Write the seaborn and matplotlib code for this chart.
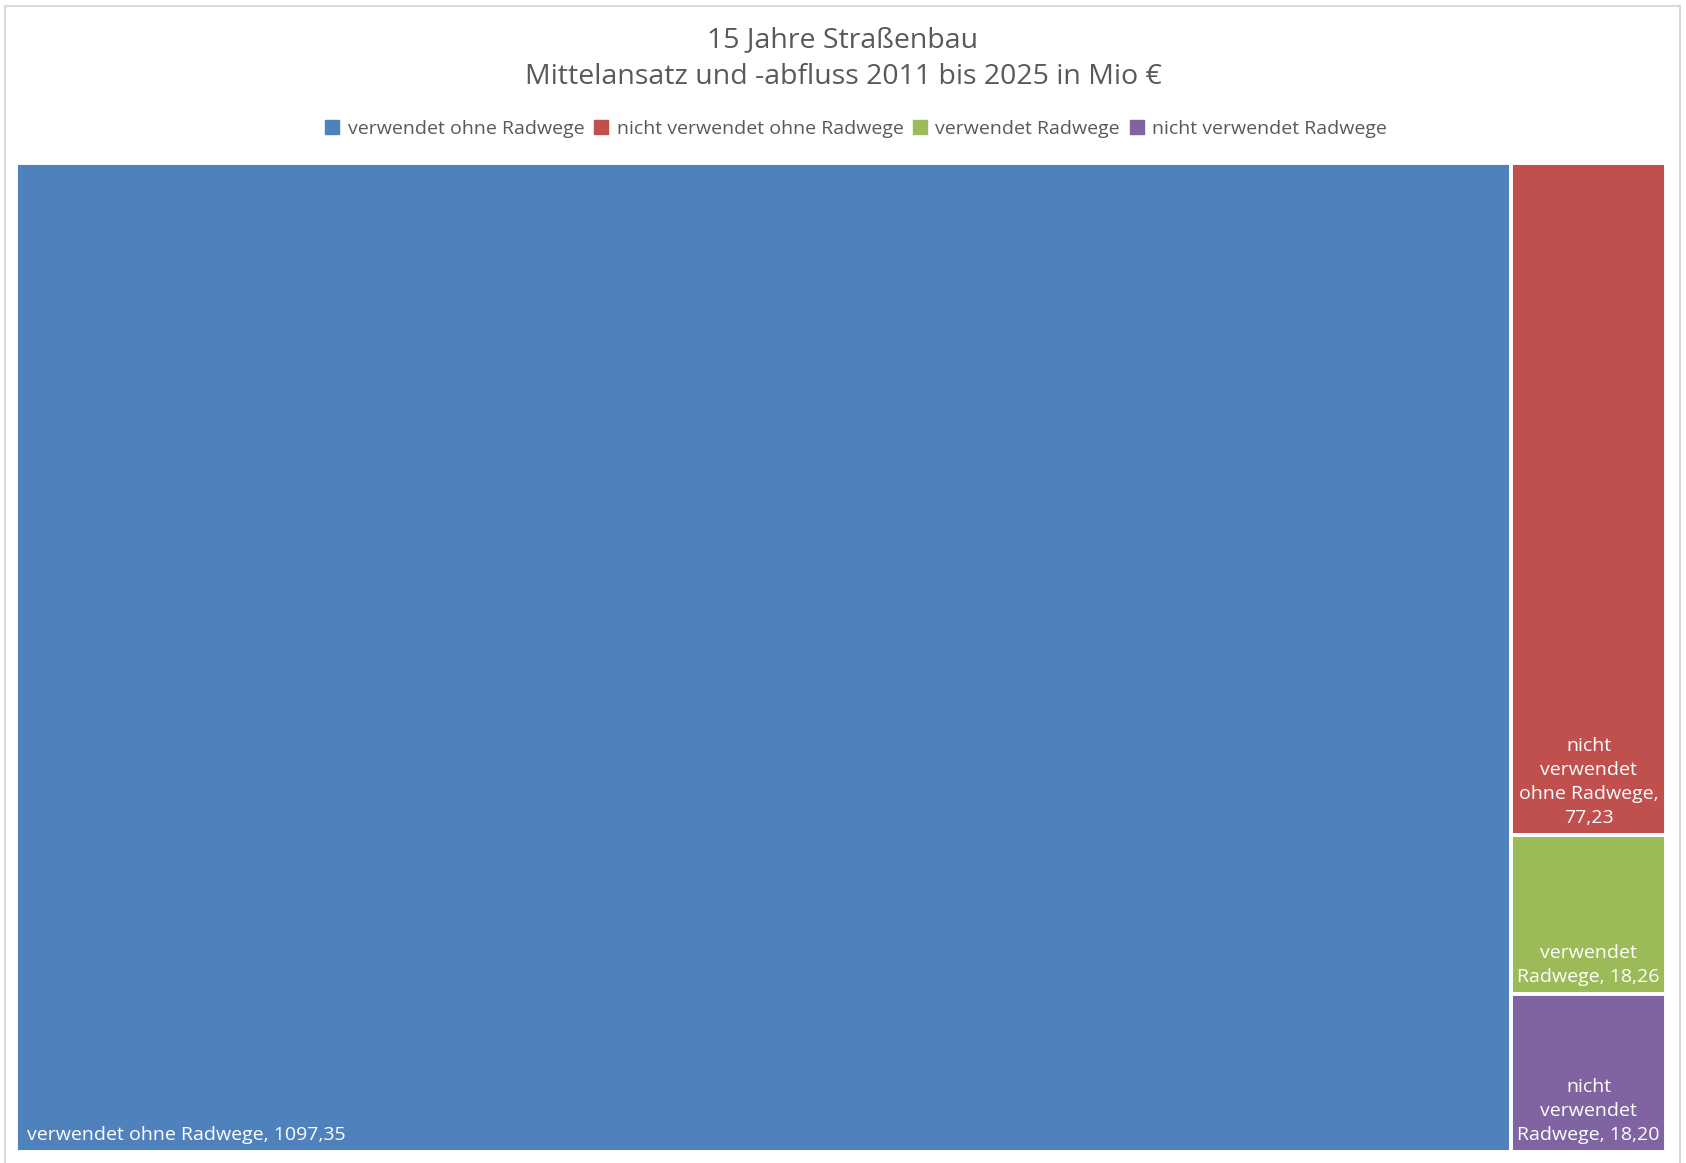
import matplotlib
matplotlib.use("Agg")
import matplotlib.pyplot as plt
from matplotlib.patches import Rectangle
from matplotlib.lines import Line2D
import seaborn as sns

# treemap: Mittelansatz und -abfluss 2011-2025
categories = ["verwendet ohne Radwege", "nicht verwendet ohne Radwege",
              "verwendet Radwege", "nicht verwendet Radwege"]
values = [1097.35, 77.23, 18.26, 18.20]
# label text as excel wrapped it inside the boxes
box_labels = ["verwendet ohne Radwege, 1097,35",
              "nicht\nverwendet\nohne Radwege,\n77,23",
              "verwendet\nRadwege, 18,26",
              "nicht\nverwendet\nRadwege, 18,20"]
colors = ["#4F81BD", "#C0504D", "#9BBB59", "#8064A2"]

sns.set_style("white")
plt.rcParams["font.family"] = ["Open Sans", "DejaVu Sans"]

W, H = 1686, 1163
fig = plt.figure(figsize=(W / 100, H / 100), dpi=100)
fig.patches.append(Rectangle((5 / W, -0.01), 1675 / W, 1 - 6 / H + 0.01,
                             transform=fig.transFigure, fill=False,
                             edgecolor="#D9D9D9", linewidth=1.5))

# axes a bit bigger than the boxes, the white edges eat ~2px per side
ax = fig.add_axes([16 / W, 1 - 1152 / H, 1650 / W, 989 / H])
total = sum(values)
ax.set_xlim(0, total)
ax.set_ylim(0, 1)
ax.axis("off")

# biggest box fills the full height, the rest stack in the remaining column
rects = [(0, 0, values[0], 1)]
rest = sum(values[1:])
top = 1.0
for v in values[1:]:
    h = v / rest
    rects.append((values[0], top - h, total - values[0], h))
    top -= h

for i, (x, y, w, h) in enumerate(rects):
    ax.add_patch(Rectangle((x, y), w, h, facecolor=colors[i],
                           edgecolor="white", linewidth=2.8))
    if i == 0:
        ax.text(x + total * 0.0065, y + 0.008, box_labels[i], color="white",
                fontsize=14, ha="left", va="bottom")
    else:
        ax.text(x + w / 2, y + 0.008, box_labels[i], color="white",
                fontsize=14, ha="center", va="bottom", linespacing=1.42,
                multialignment="center", clip_on=True)

fig.text(0.5, 1 - 40 / H, "15 Jahre Straßenbau", ha="center", va="center",
         fontsize=20.5, color="#595959")
fig.text(0.5, 1 - 77 / H, "Mittelansatz und -abfluss 2011 bis 2025 in Mio €",
         ha="center", va="center", fontsize=20.5, color="#595959")

handles = [Line2D([], [], marker="s", linestyle="", markersize=10,
                  markerfacecolor=c, markeredgecolor=c) for c in colors]
fig.legend(handles, categories, loc="center", bbox_to_anchor=(0.507, 1 - 129 / H),
           ncol=4, frameon=False, fontsize=14, labelcolor="#595959",
           handletextpad=0.3, columnspacing=0.35, handlelength=1.0)

fig.savefig("out.png", dpi=100)
